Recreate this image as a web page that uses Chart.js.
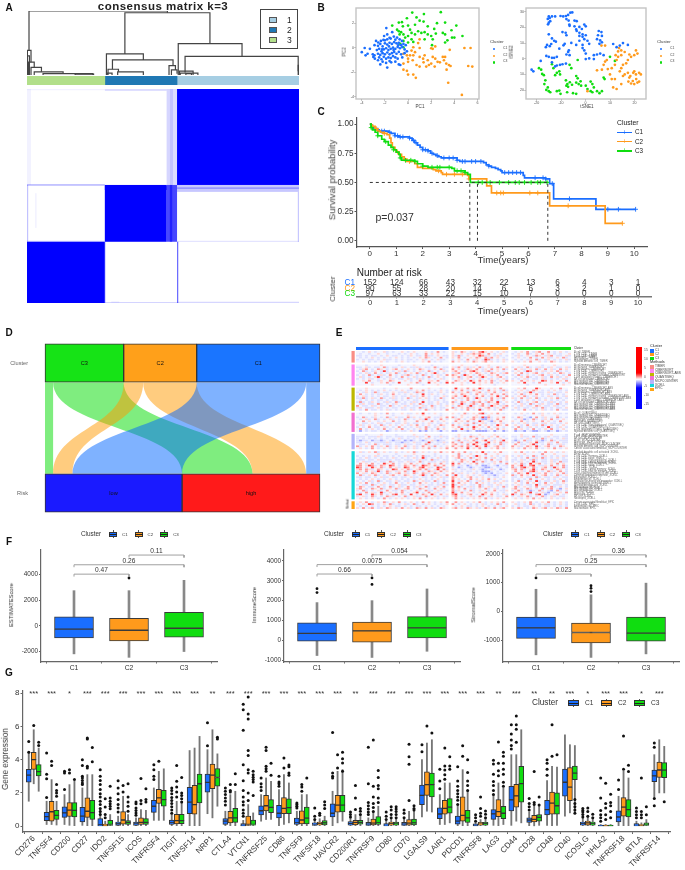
<!DOCTYPE html>
<html lang="en">
<head>
<meta charset="UTF-8">
<title>Consensus clusters</title>
<script src="https://cdn.jsdelivr.net/npm/chart.js"></script>
<style>
    body { margin: 0; width: 685px; height: 870px; background: #fff; position: relative; overflow: hidden;
           font-family: "Liberation Sans", Arial, sans-serif; }
    canvas { position: absolute; filter: blur(.3px); }
    .t { position: absolute; white-space: nowrap; line-height: 1; filter: blur(.25px); }
    .sq { position: absolute; box-sizing: border-box; }
</style>
</head>
<body>
<script>
// ---------- data ----------
const clusterNames = ['C1', 'C2', 'C3'];
const clusterSizes = [152, 90, 97];
const blue = '#1a6eff', orange = '#ff9a1c', green = '#10dd10';
const clusterColors = [blue, orange, green];

// A: dendrogram links [x left, x right, h left, h right, h top], samples on x
const dendroLinks = [
    [2.5,175,.385,.973,1],[122,228,.33,.49,.973],[188.5,268,0,.29,.49],[197,338,.04,.06,.29],[99,145,0,.235,.33],
    [106.5,182,.09,.145,.235],[101,114,0,.05,.09],[177,185,0,.08,.145],[113,145,0,0,.05],[180,187,0,.02,.08],
    [.5,5,0,.2,.385],[2,9,0,.12,.2],[5,18,0,.05,.12],[9,45,0,.02,.05],[20,82,0,0,.02],[60,83,0,0,.015],
    [190,207,0,0,.06],[191,213,0,0,.03],[198,205,0,0,.02],[338,339,0,0,.15],[0,3,0,0,.3],[100,106,0,0,.03]
];
// [x0, x1, y0, y1, consensus]
const consensusBlocks = [
    [187,339,0,152,1],[97,174,152,242,1],[0,97,242,339,1],
    [174,187,152,242,.72],[178,181,152,242,.5],[97,174,153,160,.78],[187,339,152,163,.22],[187,339,156,158,.34],
    [174,178,0,152,.16],[178,182,0,152,.24],[182,187,0,152,.14],[97,174,0,3,.14],[0,97,0,2,.05],[0,5,0,152,.05],
    [0,97,151,153,.35],[0,1.5,152,242,.24],[0,97,240.5,242,.24],[97,98,242,339,.24],[97,187,337.5,339,.18],
    [187,188.5,242,339,.6],[187,339,337,339,.16],[337.5,339,163,242,.22],[187,339,240.5,242,.14],
    [10,12,165,220,.05],[105,115,336,339,.05]
];

// B
const pcaC1 = [[-4,-.37],[-3.75,-.03],[-3.3,-.1],[-3.5,-.5],[-3.67,-.63],[-3.05,-.55],[-3,-.76],[-2.87,-.9],[-2.9,-.63],[-2.6,-1.03],[-2.4,-1.37],[-1.8,-1.63],[-1.46,-1.2],[-.8,-1.37],[-.67,-1.42],[-1.88,1.6],[-1.37,1.26],[-1.8,1.08],[-2.07,.95],[-2.77,.55],[-2.58,.42],[-2.35,.55],[-2.13,.63],[-1.8,.68],[-1.5,.74],[-1.23,.9],[-.95,.82],[-.73,.68],[-.53,.55],[-2.9,.2],[-2.6,.15],[-2.4,.3],[-2.2,.1],[-2,.35],[-1.8,.25],[-1.6,.4],[-1.4,.3],[-1.2,.45],[-1,.35],[-.8,.4],[-.6,.2],[-.4,.3],[-2.7,-.2],[-2.5,-.1],[-2.3,-.3],[-2.1,-.15],[-1.9,-.05],[-1.7,-.2],[-1.5,-.1],[-1.3,0],[-1.1,-.1],[-.9,.05],[-.7,-.05],[-.5,.05],[-2.6,-.5],[-2.4,-.6],[-2.2,-.45],[-2,-.55],[-1.8,-.4],[-1.6,-.55],[-1.4,-.45],[-1.2,-.35],[-1,-.5],[-.8,-.35],[-.6,-.55],[-.3,-.45],[-2.5,-.8],[-2.3,-.95],[-2.1,-.75],[-1.9,-.9],[-1.7,-.8],[-1.5,-.85],[-1.3,-.7],[-1.1,-.8],[-.9,-.9],[-.5,-.8],[-2.2,-1.15],[-1.9,-1.25],[-1.6,-1.1],[-1.1,-1.15],[-.2,.2],[-.3,-.15],[-.1,-.3],[-2,.6],[-1.6,.8],[-1.1,.65],[-.85,.2],[-2.25,-.15],[-1.65,.1],[-1.25,-.2]];
const pcaC2 = [[4.87,-.03],[5.4,-.03],[5.2,-1.5],[5.55,-1.55],[3.47,-2.87],[4.65,-3.87],[3.6,-.18],[2.35,.1],[2.13,-.1],[2,-.05],[1,.68],[.87,.37],[1,-.03],[.45,.03],[.3,-.24],[.6,-.37],[.17,-.63],[.45,-.63],[-.4,-.5],[-.1,-.63],[0,-.9],[.4,-1.03],[1,-.76],[1.3,-.9],[1.43,-.63],[1.7,-1.03],[2.13,-.76],[2.35,-.9],[2,-1.3],[1.8,-1.42],[2.3,-1.55],[2.55,-1.16],[2.75,-1.2],[3,-.76],[3.2,-.76],[3.1,-1.03],[3.3,-1.3],[3.53,-1.42],[3.67,-1.5],[3.33,-1.8],[-.4,-1.3],[0,-1.16],[-.4,-1.8],[-.1,-1.9],[0,-2.2],[.45,-2.2],[.67,-2.47],[.73,-1.42],[1,-1.55],[1.34,-1.2],[1.57,-1.55]];
const pcaC3 = [[.36,2.87],[2.83,2.9],[1.37,2.74],[.73,2.47],[-.1,2.4],[-.53,2.08],[-.8,2.05],[-1.37,1.8],[1,2.2],[1.34,2.13],[2.5,2],[3.2,2.05],[4.17,1.8],[0,1.8],[.6,1.87],[1.7,1.74],[2.26,1.53],[3.75,1.42],[3,1.2],[3.2,1.08],[4.7,.95],[4,.82],[3.8,.82],[3.4,.6],[3.2,.42],[-.8,1.34],[-.6,1.26],[-.4,1.08],[-.25,.82],[0,.95],[.3,1.2],[.6,1.08],[.87,1.34],[1.15,1.2],[1.43,1.26],[1.7,1.08],[2,.95],[2.13,.68],[1.43,.68],[.3,.68],[.45,.47],[0,.42],[-.4,.55],[-.67,.3],[-.4,.03],[2.07,.2],[2.4,1.15],[-.73,1.08],[-.45,1.74],[.17,1.47],[-.95,1.47]];
const tsneC1 = [[-15,27],[-14.6,26],[-15.4,25.4],[-14.4,24],[-15,23],[-15.3,22],[-13.7,27],[-12.4,27],[-10.2,27.3],[-9.1,27],[-8,27.3],[-7.1,28],[-6.2,29.4],[-5.4,29.6],[-7.8,25.3],[-6.9,24.4],[-4.5,24.4],[-3.6,24],[-6.5,21],[-4.5,20.7],[-3.8,18.7],[-2.5,20.3],[-.5,21.8],[.1,20.7],[-3.6,17.7],[-2.5,16.6],[-1.2,15.5],[.1,15],[-2.5,14.6],[-1.2,14],[-9.4,17],[-8.1,16.6],[-7.8,15],[-15,15.6],[-13.7,13],[-12.8,11.5],[-12.1,10.9],[-15.7,8.8],[-16.2,7.4],[-14.6,8],[-10.7,6.4],[-8.5,9.5],[-5.8,10.1],[-3.8,8.8],[-2.5,11.5],[-.5,12.5],[.8,11.5],[1.5,9.5],[-1.2,6.8],[-.5,5.3],[.1,3.3],[-7.1,4.3],[-7.8,2.7],[-6.5,2.3],[5.4,17.7],[6.5,17],[5.1,15],[6.7,14.6],[4.7,12.5],[5.7,9.5],[6.7,10.5],[-16,1.8],[-15,1.2],[-13.7,.6],[-12.8,.6],[-11.7,1.2],[-18.3,-1.4],[-22,-7],[-21.3,-8],[.1,-.2],[1.5,.2],[3.4,-.2],[4.7,2.7],[6,3.3],[7.4,2.3],[3.4,2.3],[-10.4,-3.9],[-9.4,-3.5],[-8,-3.1],[-13.7,-2.3],[-12.4,-4.9],[-11.7,-4.3],[12.7,7.4],[14,8.4],[15.3,10],[17.3,8.8],[11.3,9.4],[-6.6,21.8],[-1.5,19],[-9,8.6],[-14,9.4],[-6.8,5.4],[-1.2,8.8],[6,11.7]];
const tsneC2 = [[6.5,8.4],[8,8.4],[13.3,4.7],[14.6,5.3],[12.3,2.3],[13.3,1.2],[12.7,-.8],[16,4.3],[20.6,5.3],[21.2,3.3],[19.9,2.3],[17.9,2.7],[18.6,1.2],[17.3,-.8],[16.6,-2.9],[15.3,-3.9],[14.6,-6],[8,-1.8],[7.4,-3.9],[6.7,-7],[8.7,-.8],[10.7,-6],[12,-3.9],[14,-8],[16,-10],[17.3,-9],[19.9,-8],[20.6,-10],[21.9,-9],[22.6,-10],[17.9,-12],[19.3,-14.2],[19.9,-16.2],[21.2,-15.2],[21.9,-14.6],[10,-10],[10.7,-13],[12,-13],[11.3,-18.3],[12.7,-19.3],[14.6,-16.2],[15.3,-11],[13.7,6.8],[14.6,2.3],[18.3,-11],[19.5,-9],[17.5,-14.6],[18.6,-15.8],[20.7,-13],[.8,-20.7],[4.7,-7.4],[9.1,-6.6]];
const tsneC3 = [[-19,-6],[-18.1,-7],[-17.7,-9.7],[-17,-10.5],[-16.4,-13.8],[-16.8,-16.2],[-16,-19.9],[-15,-20.7],[-14.4,-21.4],[-15.4,-18.3],[-13.7,-3.5],[-13.1,-6],[-11.7,-9],[-12.4,-10.5],[-10.7,-8],[-10.4,-10],[-6.5,-3.9],[-5.8,-6],[-8,-13.8],[-7.4,-16.2],[-7.8,-17.2],[-7.1,-17.9],[-3.8,-11],[-3.2,-12.5],[-3.8,-15.2],[-2.8,-16.2],[-1.8,-17.2],[.1,-17.2],[2.1,-14.6],[2.8,-16.2],[3.4,-18.3],[2.1,-20.7],[.8,-19.3],[2.8,-21.4],[4.7,-20.7],[6.7,-20.7],[5.7,-22],[-11.7,-20.7],[-10.7,-20.3],[-10.2,-22.4],[-7.5,-21.4],[-5.1,-22],[-3.8,-22.4],[7.4,-12],[7.8,-13],[-3.2,-.8],[10,1.2],[12,-1.4],[-6.4,-15],[-5.5,-16.6],[-2,-14.4]];
const pcaXTicks = [-4,-2,0,2,4,6], pcaYTicks = [-4,-2,0,2];
const tsneXTicks = [-20,-10,0,10,20], tsneYTicks = [-20,-10,0,10,20,30];

// C: survival curves, [time, survival]
const survC1 = [[0,1],[.05,.99],[.1,.975],[.15,.96],[.25,.95],[.35,.94],[.7,.93],[.8,.92],[.95,.9],[1.1,.89],[1.5,.88],[1.6,.86],[1.7,.84],[1.8,.82],[1.9,.8],[2,.78],[2.2,.77],[2.3,.75],[2.4,.74],[2.5,.73],[2.6,.72],[2.7,.71],[3.3,.69],[3.4,.68],[4.3,.67],[4.4,.65],[4.5,.64],[4.6,.63],[4.75,.62],[4.85,.61],[4.95,.6],[5,.585],[5.8,.56],[5.85,.54],[6.65,.53],[6.8,.49],[6.95,.36],[8.55,.27],[10.05,.27]];
const survC2 = [[0,1],[.05,.99],[.1,.98],[.2,.96],[.3,.94],[.4,.93],[.5,.92],[.65,.91],[.75,.88],[.8,.84],[.85,.8],[.95,.78],[1,.76],[1.1,.74],[1.2,.72],[1.3,.7],[1.4,.68],[1.7,.66],[1.8,.63],[2,.62],[2.4,.61],[2.5,.6],[2.7,.585],[2.75,.57],[3.7,.56],[3.75,.53],[4.42,.47],[4.6,.41],[6.8,.3],[8.9,.15],[9.55,.15]];
const survC3 = [[0,1],[.05,.97],[.1,.95],[.2,.93],[.3,.9],[.45,.87],[.55,.85],[.7,.82],[.8,.8],[.9,.78],[1,.76],[1.1,.74],[1.15,.71],[1.2,.69],[1.7,.68],[1.8,.66],[2,.64],[2.2,.63],[3.1,.62],[3.2,.6],[3.6,.585],[3.7,.57],[3.8,.5],[6.75,.5]];
const censorC1 = [.1,.3,.45,.55,.75,.95,1.05,1.15,1.25,1.5,1.65,1.75,2,2.1,2.2,2.35,2.55,2.8,3,3.15,3.3,3.5,3.6,3.85,4,4.2,4.5,5.1,5.25,5.4,5.55,5.7,6.25,6.55,6.65,6.9,7.55,9,9.4,10.05];
const censorC2 = [.1,.25,.55,1.05,1.3,1.5,2.6,2.9,3.2,3.5,3.75,4.8,4.95,5.05,6.05,6.35,7.5,9.55];
const censorC3 = [.05,.3,.6,.9,1.15,1.35,1.55,1.7,2,2.35,2.55,2.65,3,3.3,3.45,3.6,4.1,4.25,4.55,4.9,5.25,5.5,5.65,5.85,6.1,6.35,6.45,6.7];
const medianTimes = [3.78, 4.07, 6.73];
const survTicks = [0,.25,.5,.75,1];
const riskYears = [0,1,2,3,4,5,6,7,8,9,10];
const riskC1 = [152,124,66,43,32,22,13,6,4,3,1];
const riskC2 = [90,55,28,20,14,6,6,3,2,1,0];
const riskC3 = [97,63,33,22,15,10,7,0,0,0,0];

// D: counts going from cluster to risk group
const riskStrata = ['low', 'high'];
const clusterToLow  = {C3: 10, C2: 24, C1: 135};
const clusterToHigh = {C3: 87, C2: 66, C1: 17};

// E: one string per row, one char per patient column, space between clusters
// . near 0, b low, B very low, p raised, r high, R very high
const timerRows = [
 "..b.p.b..pb.b..p.b.p...p.b.r.b. pb.rp.bp.rRp.p.b.pb .b.p.r.bpr..r.b.p.b.",
 ".b..b..p..b...b.b.p.b..r.p.p... p..p.bprprp.r.b.p.. b.p..rb.p.r.p.b.b..p",
 "bb.b.bb.b.p.bb.b.bp.bb.rbb.p.bb pbrb.p.p.Rrbp.bpb.b .bpb.p.brp.bpr.bb.pb",
 ".b.b.p.b.b.b.p.b.b.b.p.rp.b.r.b p.r.b.p.rp.rbr.p.b. b.p.b.r.b.r.pb.p.rb.",
 "b.b.bb.b.pbb.b.b.bb.b.pb.b.pbb. b.pb.r.bp.bRrb.b.pb .b.b.bp.rb.bp.b.b.pb",
 "..p.b.b.p.b..b.p.b.b..p.r.b.b.. r.p.bp.rp.pr.p.b.p. p.b.p.r..p.b.rp.b.b."
];
const cibersortRows = [
 "...b....p.....b....p.....b..... ...p....b...p...... ....p.....b...p.....",
 "bb.pb.bb.rb.bb.pb.bbpb.bb.rb.bb pbr.bpbp.rb.pb.rb.p b.pb.rb.bpb.bp.bb.pb",
 ".bpr.b.rp.b.pr.b.p.b.rp.b.p.rb. r.p.brp.r.bp.r.p.rb .r.pb.p.rb.r.pb.r.p.",
 "b.rb.bp.bRb.b.pbrb.b.pb.rb.b.pb pr.bp.rRp.bprb.p.b. b.p.bRr.b.pb.p.rb.b.",
 ".b.pb.r.b.bp.rb.b.p.rb.b.pRb.b. bpr.b.p.rp.b.rp.bpr .p.r.b.pr.b.p.b.rp.b",
 "b.b.rb.bpb.r.b.bprb.b.rb.b.pb.r rp.bRp.b.rp.bp.r.b. b.rb.p.b.pr.bp.b.b.r",
 ".pb.b.pRb.bp.b.r.b.pb.b.rb.p.b. p.rb.pr.bpRp.b.pr.b .b.p.rb.b.pb.r.pb.p.",
 "b.b.pb.b.b.pb.bb.pb.bpb.b.b.pb. b.pb.p.b.pb.bp.b.pb b.b.pb.bb.pb.b.b.pb.",
 "..p.r..bp..rp...p.b..r..pp.r..p .rp.p.Rp.r.p.rb.p.r p..r.p.p..Rr.p..p.r.",
 "...R.b..p.r.b.R...p.rb..R.p.b.R r..p.b.R.p.p.r.b.p. ..p.R..b.r...p.R.b.p",
 ".....p.....b.....p....b....p... ...p.....p....b.... .....b.....p.....p.."
];
const absRows = [
 "...p.....b...p....r.....p...b.. .R.p.r.p.Rp.b.p.r.. ..p.r...Rp...p..r..",
 ".b.p.b.b.p.b.b.p.bb.p.r.b.b.p.b bp.r.b.rp.b.r.p.brb .b.p.b.rp.b.b.p.b.b",
 "b.bp.brb.bb.p.bbpb.brpb.bb.bp.b r.bp.rb.pr.bp.r.b.p b.p.bpRb.bb.pb.bb.p",
 ".r.b.b.bp.b.r.b.b.p.b.R.bp.b.b. .p.rp.b.r.pb.r.p.rb .b.rb.p.r.b.b.rb.b.",
 "b.pb.b.b.bb.pb.bb.bpb.r.b.bb.pb pr.bRp.bp.r.bp.Rb.r b.p.rb.bp.b.pb.b.bp",
 "bbrb.pb.rb.bpb.b.rb.bp.pb.b.rb. r.bp.r.bRp.b.r.pbr. pb.r.bp.rb.b.p.rb.b",
 ".b.b.b.bb.b.bb.b.b.bb.b.b.bb.b. .p.b.r.b.p.p.r.b.p. .b.b.p.b.b.p.b.b.b.",
 "brb.bp.b.bpb.rb.b.bpb.R.bb.p.bb rb.rp.brpr.brp.Rb.p b.rb.b.pr.b.bpb.b.p",
 ".bp.bb.rb.b.bp.bb.pb.rb.bb.pb.b p.bRb.prb.r.b.pr.b. .b.pb.rb.bp.bb.rb.b",
 "r.bb.pb.bb.rb.b.pb.bb.pb.rb.b.p b.rp.bRb.pr.bRp.bpr b.bp.bb.rp.bb.pb.b.",
 "bp.bbb.pb.b.bb.pb.bb.rbb.pb.bb. rb.p.rbp.b.pr.bp.rb .pb.bb.pb.rb.b.bb.p",
 ".b.r.bb.b.pb.b.bb.pb.b.rb.b.b.r .p.b.r.b.Rb.p.b.rb. b.b.r.b.b.pb.b.r.bb"
];
const quantRows = [
 ".b..b.p.b.r.b..p.bb.p.R.b.p.b.. p.b.rb.p.rRb.p.r.b. .b.p.b.r.bp.b.p.b.b",
 "......p.....b....p....p.....b.. ...p....p...p...... ....b.....p....p...",
 "b.rb.bp.b.rb.pbb.rbp.b.pr.bbp.r rb.p.b.rpbRBrb.p.r. b.rp.bB.r.bp.b.rb.b",
 ".b.pb.rb.b.pb.b.rb.b.pbRb.b.r.b .pr.b.pr.bBBpb.r.p. .b.pBb.rb.bp.r.b.p.",
 "..r.p..b.p..r.b.p...r.p..r.b.p. .r.p.r.b.Rp.bBp.r.. p..r.b.p..r.p.b.r..",
 "b.bb.b.pb.bb.bb.pb.bb.b.pb.bb.b b.p.bb.rb.pb.bb.pb. b.b.pb.bb.bp.bb.b.p",
 ".pb.p.b.rb.p.b.p.bp.r.b.p.b.rp. r.b.pr.b.r.p.b.Rp.r .p.b.r.bp.rb.p.b.p.",
 "b.b.r.bb.pb.b.r.b.b.pb.rb.bp.b. p.rb.b.Rp.b.r.bp.b. b.rb.bp.b.b.Rb.bp.b",
 ".r.b.p.b.r.b.p.r.b.b.p.r.b.r.p. .p.R.p.r.p.b.p.r.p. .r.p.b.r.b.p.r.b.p.",
 ".B.b.bb.b.Bb.b.bb.pb.BbB.b.bB.b BB.bbBb.BBBBb.Bb.Bb .BbbB.bBBb.bBb.Bb.b"
];
const mcpRows = [
 "...b....p....b.....p...p....b.. ..p...b..p....p.... ...p....b....p....b",
 "bbb.bbbpb.bb.bbb.bbbpbb.r.bbpbb .bp.b.rpb.p.bp.r.b. bb.pbb.rbb.bp.bb.bb",
 "b.b.b.b.b.b.b.pb.b.b.b.pb.b.b.b p.b.p.b.r.b.p.b.p.b .b.b.pb.b.rb.b.b.pb",
 "bBbb.BbbBb.bBbb.BbBb.bBb.pbBbb. .br.bp.rb.pR.bp.bR. bBb.rbb.pbBb.rb.bbb",
 "bb.pb.bbbbpb.bbBbb.pbb.bRb.bbpb r.br.bp.Rb.bR.p.rbp b.rb.bp.Rbb.pb.r.bb",
 ".bb.b.rb.bbb.bb.pbb.bb.rb.bb.b. pr.b.r.Rp.bRp.b.rb. .r.bb.pRb.b.rb.bpb.",
 "rb.p.r.bp.rb.pb.rb.pb.r.pbr.b.p r.pr.rb.Rp.Rb.pr.b. r.pb.rp.Rb.pr.b.rp.",
 ".p.b.r.b.p.b.p.r.b.pb.p.r.b.p.r .r.p.R.p.r.b.p.r.p. p.b.r.p.r.b.p.r.b.p"
];
const xcellRows = [
 ".pb.p.rb.p.b.p.b.p.rb.p.b.p.r.p r.p.r.b.p.R.b.p.r.. .p.r.b.p.b.r.p.b.p.",
 ".......p.....b.....p......b.... ..r...p....r...p... ....p.....r...p....",
 "b.b.b.pb.bb.b.b.pbb.b.rbb.b.b.b p.rb.p.bRp.b.p.b.bp b.pb.b.rb.bp.b.b.pb",
 ".b.pb.b.b.b.pb.b.b.pb.Rb.b.pb.b .pr.b.rb.p.r.bp.b.p .b.b.r.bp.rb.b.p.b.",
 "bbb.bb.pbbbb.bb.bbb.bpbb.rbb.bb .b.rp.b.rp.b.r.bb.p bb.pb.brb.bb.pbb.bb",
 "b.pbb.b.bb.rb.bb.pbb.rb.bbb.bpb p.br.p.Rb.rb.bp.r.b b.bp.b.Rb.bb.pb.rbb",
 ".r.p.r.b.Rp.r.b.p.r.p.b.r.p.r.b R.r.b.p.r.b.b.p.b.r .p.rb.R.pr.b.p.r.p.",
 "rr.pRrb.rp.Rr.b.rp.rb.Rrp.rb.r. r.bb.Bb.b.BBb.bB.bb r.pRb.rR.bbp.r.b.rb",
 "Rr.b.Rp.rb.r.pb.Rr.p.rR.pb.Rr.b b.Bb.bBb.bbBBb.bb.b rb.rRp.rb.pr.bRp.rb",
 "pr.rpb.rp.b.Rr.p.rb.pr.rb.pR.rb pb.bb.bp.bBb.pb.Bb. pr.rb.pRb.rp.b.rp.b",
 "bp.r.pbRb.rp.bp.rb.Rp.b.rpb.r.p .b.b.bb.b.BBBb.b.b. .r.pb.rRp.b.rpb.r.b",
 "r.pb.rp.b.rb.pr.pb.rb.rpb.rp.b. r.bp.b.pb.bBbB.bb.p b.rp.Rb.bp.r.b.p.rb",
 ".rb.p.rb.b.pr.b.rp.b.pRb.r.pb.r bR.b.p.b.pb.bbBb.b. rb.r.p.Rb.pr.b.rb.p",
 "bb.bb.b.pbb.bb.bb.pbb.bb.bb.pbb rp.b.pr.b.p.b.bb.p. bb.p.bb.rb.bb.pb.bb",
 ".b.b.p.b.b.p.b.b.b.b.p.b.b.p.b. r.p.b.r.p.p.r.p.b.. b.b.b.r.b.p.b.b.p.b",
 "b.b.pb.rb.bb.pb.bb.rb.pbb.rb.bb R.bp.rb.bpb.p.bb.pb b.rb.pb.Rb.bb.pb.rb",
 ".p.r.b.b.p.b.r.b.p.b.r.p.b.b.r. r.r.p.b.r.p.b.p.p.. .p.b.r.p.b.r.p.b.p.",
 "b.bb.rb.pb.bb.pbb.bb.pb.bb.bpbb Rb.pb.bb.rb.bb.pb.b b.pb.bb.Rb.pb.bbb.b",
 ".rp.bb.r.b.rb.pb.r.bpb.rb.bp.r. R.rb.bpb.rb.pb.b.rb .rb.p.b.r.bb.rb.p.b",
 "pr.b.rp.rb.p.rb.pr.b.rp.b.r.pb. r.p.r.bb.p.rb.pb.b. pr.b.rp.b.r.pr.bB.p",
 "b.rb.b.pb.r.bb.rb.b.pb.rbb.pb.b rbp.b.rb.bp.b.r.bbp b.rb.bBb.rb.bB.rb.b",
 ".b.r.pb.Rb.p.b.r.b.pR.b.r.pb.b. Rb.r.p.b.p.r.p.b.b. .r.b.pR.b.pbB.b.p.r",
 "rR.b.Rp.r.b.rR.pb.R.b.rp.Rb.r.p rR.b.pr.b.Rp.r.b.pb Rb.rp.b.rR.Bb.pr.b.",
 "b.pb.rb.b.rpb.b.rb.pbb.rb.pb.bb pr.bb.pb.rb.bp.bb.r b.bp.rb.b.rb.pb.bb.",
 ".p.b.p.b.r.b.p.p.b.p.r.b.p.b.p. .r.p.b.p.p.r.b.p.p. .p.b.p.r.p.b.p.b.p."
];
const epicRows = [
 ".p.r.b.p.rb.p.r.b.p.b.r.p.b.p.r .r.p.b.p.r.b.p.p.r. p.b.p.r.b.p.r.b.p.b",
 "b.p.Rr.b.p.rb.b.pb.rb.b.p.b.b.p r.b.p.b.b.pb.b.rb.b .pb.b.rb.b.pb.b.p.b",
 ".b.b.b.b.b.p.bb.b.b.bb.b.b.b.b. .b.p.bb.b.p.b.b.b.p b.b.bb.p.b.bb.b.b.b",
 "p.r.pr.bp.rp.p.r.pb.rp.r.pb.rp. pr.p.rp.pb.rp.r.pr. p.rp.b.rp.pr.p.rp.r"
];
const timerLabels = ['B cell_TIMER','T cell CD4+_TIMER','T cell CD8+_TIMER','Neutrophil_TIMER','Macrophage_TIMER','Myeloid dendritic cell_TIMER'];
const cibersortLabels = ['B cell memory_CIBERSORT','B cell naive_CIBERSORT','B cell plasma_CIBERSORT','T cell CD8+_CIBERSORT','T cell CD4+ memory resting_CIBERSORT','T cell CD4+ memory activated_CIBERSORT','T cell regulatory (Tregs)_CIBERSORT','NK cell activated_CIBERSORT','Macrophage M0_CIBERSORT','Macrophage M2_CIBERSORT','Mast cell resting_CIBERSORT'];
const absLabels = ['B cell memory_CIBERSORT-ABS','B cell naive_CIBERSORT-ABS','B cell plasma_CIBERSORT-ABS','T cell CD8+_CIBERSORT-ABS','T cell CD4+ memory resting_CIBERSORT-ABS','T cell CD4+ memory activated_CIBERSORT-ABS','T cell regulatory (Tregs)_CIBERSORT-ABS','NK cell activated_CIBERSORT-ABS','Macrophage M0_CIBERSORT-ABS','Macrophage M1_CIBERSORT-ABS','Macrophage M2_CIBERSORT-ABS','Mast cell resting_CIBERSORT-ABS'];
const quantLabels = ['B cell_QUANTISEQ','Macrophage M1_QUANTISEQ','Macrophage M2_QUANTISEQ','Monocyte_QUANTISEQ','Neutrophil_QUANTISEQ','NK cell_QUANTISEQ','T cell CD4+ (non-regulatory)_QUANTISEQ','T cell CD8+_QUANTISEQ','T cell regulatory (Tregs)_QUANTISEQ','Myeloid dendritic cell_QUANTISEQ'];
const mcpLabels = ['T cell_MCPCOUNTER','T cell CD8+_MCPCOUNTER','NK cell_MCPCOUNTER','B cell_MCPCOUNTER','Monocyte_MCPCOUNTER','Macrophage/Monocyte_MCPCOUNTER','Myeloid dendritic cell_MCPCOUNTER','Cancer associated fibroblast_MCPCOUNTER'];
const xcellLabels = ['Myeloid dendritic cell activated_XCELL','B cell_XCELL','T cell CD4+ memory_XCELL','T cell CD4+ naive_XCELL','T cell CD4+ (non-regulatory)_XCELL','T cell CD4+ central memory_XCELL','T cell CD4+ effector memory_XCELL','T cell CD8+ naive_XCELL','T cell CD8+_XCELL','T cell CD8+ central memory_XCELL','T cell CD8+ effector memory_XCELL','Class-switched memory B cell_XCELL','Common lymphoid progenitor_XCELL','Eosinophil_XCELL','Endothelial cell_XCELL','Granulocyte-monocyte progenitor_XCELL','Hematopoietic stem cell_XCELL','Myeloid dendritic cell_XCELL','Macrophage_XCELL','Macrophage M1_XCELL','Macrophage M2_XCELL','Mast cell_XCELL','Monocyte_XCELL','NK cell_XCELL','Neutrophil_XCELL'];
const epicLabels = ['Cancer associated fibroblast_EPIC','T cell CD8+_EPIC','Endothelial cell_EPIC','Macrophage_EPIC'];
const methodNames = ['TIMER','CIBERSORT','CIBERSORT-ABS','QUANTISEQ','MCPCOUNTER','XCELL','EPIC'];
const methodColors = ['#f98e86','#ff85f0','#bdb800','#f270d0','#b4b4fa','#14d8d8','#ffa514'];
const heatLegendTicks = ['15','10','5','0','-5','-10','-15'];

// F: box stats [low whisker, q1, median, q3, high whisker]
const estimateBox = [[-2170,-930,-250,705,2745],[-2440,-1160,-330,600,2745],[-1990,-880,-175,1060,3550]];
const estimateOut = [[],[3730],[]];
const estimateBrackets = [[1,2,4030,'0.47'],[1,3,4760,'0.26'],[2,3,5516,'0.11']];
const estimateTicks = [-2000,0,2000,4000];
const immuneBox = [[-750,-33,358,896,1905],[-847,-81,489,928,2003],[-537,130,635,1205,2590]];
const immuneOut = [[2606,2410],[3143,2818],[]];
const immuneBrackets = [[1,2,3339,'0.66'],[1,3,3811,'0.0075'],[2,3,4300,'0.054']];
const immuneTicks = [-1000,0,1000,2000,3000,4000];
const stromalBox = [[-1510,-936,-575,-203,767],[-1600,-1094,-733,-406,575],[-1477,-1037,-755,-203,980]];
const stromalOut = [[1161],[890,800,688],[]];
const stromalBrackets = [[1,2,1296,'0.023'],[1,3,1623,'0.25'],[2,3,1962,'0.36']];
const stromalTicks = [-1000,0,1000,2000];

// G
const genes = ['CD276','TNFSF4','CD200','CD27','IDO2','TNFSF15','ICOS','TNFRSF4','TIGIT','TNFSF14','NRP1','CTLA4','VTCN1','TNFRSF25','CD86','TNFSF9','TNFSF18','HAVCR2','CD200R1','TNFRSF9','CD80','CD70','LGALS9','LAIR1','PDCD1','TNFRSF8','LAG3','CD44','CD28','CD48','CD40','ICOSLG','HHLA2','TNFRSF18','BTLA','TNFRSF14'];
const geneStars = ['***','***','*','***','***','***','***','***','***','***','**','***','***','***','***','***','***','***','**','***','***','***','***','***','***','***','**','***','**','**','***','*','***','***','*','***'];
const exprTicks = [0,2,4,6,8];
const geneC1 = [[1.5,2.64,3.07,3.42,4.5],[.1,.33,.57,.84,1.5],[.1,.53,.8,1.17,1.9],[.05,.25,.6,1.13,2.3],[0,.02,.08,.45,1],[0,.05,.15,.25,.6],[0,.05,.13,.25,.5],[.35,.83,1.2,1.55,2.3],[0,.1,.2,.37,.7],[0,.75,1.45,2.33,4.55],[.75,2.05,2.63,3.13,4.6],[0,.1,.3,.45,.9],[0,.02,.05,.15,.35],[.3,.68,.93,1.23,1.9],[0,.5,.78,1.25,2.2],[0,.1,.2,.48,.9],[0,.05,.1,.2,.35],[0,.55,.78,1.35,2.1],[0,.06,.15,.27,.5],[0,.04,.12,.23,.5],[0,.02,.07,.15,.3],[0,.04,.12,.23,.5],[.55,1.3,1.85,2.47,4],[.1,.45,.73,1.1,1.9],[0,.12,.3,.6,1.2],[0,.02,.06,.14,.2],[.05,.41,.74,1,1.9],[.05,.92,1.58,2.39,4.3],[0,.23,.37,.5,.85],[.05,.67,1,1.56,2.75],[.6,1.8,2.64,3.44,5.5],[0,.06,.15,.25,.5],[0,0,.02,.06,.1],[0,.25,.55,.92,1.8],[0,.02,.07,.15,.3],[1.75,2.68,3.03,3.38,4.3]];
const geneC2 = [[2.55,3.42,4,4.44,5.8],[.1,.3,.87,1.5,2.8],[.05,.58,.97,1.42,2.5],[0,.53,.9,1.7,3.1],[0,.02,.05,.12,.3],[0,.12,.37,.88,1.8],[0,.1,.23,.5,1],[.35,1.37,1.7,2.22,3.3],[0,.13,.33,.72,1.5],[0,.72,1.3,2.45,4.7],[.5,2.25,3.07,3.73,5.8],[0,.2,.5,.9,1.9],[0,.04,.1,.6,1.3],[.4,.92,1.23,1.85,2.9],[.1,.75,1.07,1.72,3.1],[0,.13,.37,.92,1.9],[0,.07,.15,.25,.45],[.2,.85,1.27,1.85,3.3],[0,.08,.23,.35,.7],[0,.08,.18,.43,.85],[0,.06,.15,.25,.5],[0,.06,.18,.4,.9],[.9,1.85,2.5,3.27,5],[.1,.72,1.07,1.55,2.6],[0,.3,.65,1.76,3.4],[0,.06,.13,.23,.4],[0,.57,.88,1.6,2.6],[.3,1.15,1.82,2.52,4.3],[.02,.25,.41,.65,1.2],[.03,.72,1.39,2.05,3.6],[.8,1.53,2.35,3.52,4.9],[0,.06,.2,.31,.6],[0,0,.02,.06,.1],[0,.6,1.15,1.72,3.3],[0,.02,.06,.1,.2],[2,2.93,3.38,3.85,5.2]];
const geneC3 = [[2.1,3.03,3.28,3.7,4.7],[.07,.4,.65,.95,1.5],[0,.55,.95,1.42,2.7],[0,.4,.82,1.55,3.1],[0,.04,.1,.35,.7],[0,.1,.23,.33,.7],[0,.1,.23,.45,.95],[.35,1.2,1.6,2.15,3.45],[0,.15,.33,.72,1.5],[0,1.4,2.55,3.13,5.4],[1.2,2.4,2.93,3.47,4.35],[0,.23,.5,1.07,2.1],[0,.06,.1,.37,.8],[.4,.82,1.13,1.6,2.7],[.2,.75,1.12,1.65,2.6],[0,.13,.48,1.15,1.9],[0,.07,.2,.33,.6],[.3,.86,1.27,1.85,3.4],[0,.12,.23,.35,.7],[0,.1,.2,.57,1.2],[0,.06,.13,.25,.5],[0,.08,.2,.43,.9],[.85,1.76,2.5,3.2,5.2],[.2,.78,1.15,1.66,2.6],[0,.22,.5,.96,2.1],[0,.06,.15,.23,.45],[.1,.45,.78,1.2,2.3],[.2,1.45,2.56,3.6,5.8],[.05,.3,.53,.7,1.3],[.05,.72,1.23,2,3.55],[.8,2.8,3.19,3.62,4.85],[0,.06,.15,.25,.5],[0,0,.02,.06,.1],[0,.55,1,1.6,2.9],[0,.04,.12,.2,.4],[2,2.92,3.37,3.82,4.8]];
const outC1 = [[5.1,4.45],[1.72,2.85,3.13,4.4],[2.2,3.3,3.2],[4,3.65,3,2.9,2.75,2.6,2.5],[3.4,3,2.75,2.5,2.2,1.95,1.75,1.5,1.3,1.07,.88,.7],[2.73,2.3,1.95,1.6,1.3,1.1,.85],[1.45,1.35,1.1,.95,.8,.65],[3.7,3.4,3,2.8],[2.3,2.15,1.95,1.72,1.55,1.37,1.17,.98,.78],[],[6.22,4.83],[2.3,2.1,1.9,1.7,1.5,1.27],[7.33,7,5.77,3.7,2.73,2.15,1.75,1.47,1.27,.98,.78,.6],[2.9,2.55,2.35,2.15],[3,2.65,2.55,2.4],[1.4,1.3,1.2,1.1],[1.1,.6,.4],[5.63,3.2,3,2.9],[.85,.7,.55],[4.75,2.55,1.43,1.23,1.03,.85,.7],[.85,.6,.4],[.98,.78,.5],[4.9,4.48],[3.42,2.72,2.25],[3.58,2.72,2.4,2.15,1.95,1.76,1.56,1.3],[.68,.5,.3],[3.97,3.74,3.13,2.68,2.45,2.15,1.9],[6.1,5.54,5.19,4.85,4.64],[1.66,1.37,1.17,.98],[4,3.78,3.42,3.07],[],[1.07,.95,.85,.7,.55],[2.9,1.7,.94,.68,.5,.3],[2.78,2.2],[1.1,.88,.68,.5],[5,4.74,1.66,1.23]];
const outC2 = [[6.05],[3.9,3.65],[3.4,3.2],[5.3,5.25,3.6,3.5],[1.65,1.15,.7,.5],[2.45,2.05],[2.87,1.55,1.35],[3.9],[3.65,2.7,2.35,2.05,1.75],[],[],[2.5,2.15,2.05],[7.77,6.75,6.45,4.55,4.25,3.4,3.2,2,1.55],[4.75,4.55,3.6,3.45,3.3],[4.1,3.5],[2.5,2.35,2.1],[.78,.65],[4.3,3.5],[2.45,1.7,1],[5.18,2.4,1.75,1.37,1.13,.88],[1.17,.98,.7,.5],[4.93,4.17,3.72,1.55],[6.03],[4.7,3.62,3.38,3.1,2.83],[4.83,4.2],[1.76,1.07,.78,.6],[5.07,3.78,3.33,3.03],[6.63,6.1,5.83,5.05],[3.29,1.43,1.3],[6.1,4.2],[],[1.1,.88,.6],[2.58,1.37,1.1,.68,.4],[5.42,3.42],[2.9,.88,.68,.5],[]];
const outC3 = [[5.05,4.85],[2.5,2.15,2,1.8],[2.8],[4.73,3.87],[2.4,1.7,1.5,1.35,1.2,1.05],[2.55,1.75,1.45,1.2,.9],[2.25,1.6,1.45],[],[2.93,2,1.85,1.65,1.45],[],[5.35,5.25],[3.15,2.5],[3.3,3.1,2.95,2.8,2.65,1.85],[3.78,3.07],[3.68,3.58,3.2,3.07],[2.9],[1.47,1.27,1.07],[4.45,4.05,3.8,3.3],[1.07,.9,.7],[3.35,2.93,2.45,2.25,1.7,1.43],[1.17,1.03,.88,.7,.5],[1.23,1.07,.98],[5.6],[4.17,3.62,3.42],[4,3.23,2.72,2.45,2.15],[.92,.72,.5],[4.45,4.2,3.78,3.42,3.13,2.64,2.4],[],[1.76,1.27],[4.3],[1.6,1.37,1.17,.98,.78],[.72,.5],[1.92,1.43,1.23,.88,.5],[3.66,3.29],[1.17,.68],[1.47]];

// ---------- helpers ----------
Chart.defaults.font.family = '"Liberation Sans", Arial, sans-serif';
Chart.defaults.animation = false;

function text(str, x, y, o = {}) {
    const el = document.createElement('div');
    el.className = 't';
    el.textContent = str;
    el.style.left = x + 'px';
    el.style.top = y + 'px';
    el.style.fontSize = (o.size || 8) + 'px';
    el.style.color = o.color || '#333';
    if (o.weight) el.style.fontWeight = o.weight;
    if (o.spacing) el.style.letterSpacing = o.spacing + 'px';
    const ax = o.anchor === 'middle' ? '-50%' : (o.anchor === 'end' ? '-100%' : '0');
    el.style.transform = `translate(${ax},-50%)` + (o.rot ? ` rotate(${o.rot}deg)` : '');
    document.body.appendChild(el);
}
function box(x, y, w, h, css) {
    const el = document.createElement('div');
    el.className = 'sq';
    el.style.cssText = `left:${x}px;top:${y}px;width:${w}px;height:${h}px;${css}`;
    document.body.appendChild(el);
}
function boxKey(x, y, w, h, color) {
    box(x + w / 2 - .4, y - h / 2 - 1.5, .8, h + 3, 'background:#555');
    box(x, y - h / 2, w, h, `background:${color};border:.7px solid #333`);
    box(x, y - .45, w, .9, 'background:#222');
}
// plot = page coordinates of the plotting area, m = room around it
function addChart(plot, m, type, data, scales, plugins = []) {
    const cv = document.createElement('canvas');
    cv.width = plot.r - plot.l + m.l + m.r;
    cv.height = plot.b - plot.t + m.t + m.b;
    cv.style.left = (plot.l - m.l) + 'px';
    cv.style.top = (plot.t - m.t) + 'px';
    document.body.appendChild(cv);
    const shownLeft = scales.y.display !== false && scales.y.position !== 'right';
    const shownRight = scales.y.display !== false && scales.y.position === 'right';
    const shownBottom = scales.x.display !== false;
    return new Chart(cv, {
        type, data, plugins,
        options: {
            indexAxis: (scales.y.indexY ? 'y' : 'x'),
            responsive: false,
            layout: { padding: { left: shownLeft ? 0 : m.l, right: shownRight ? 0 : m.r, top: m.t, bottom: shownBottom ? 0 : m.b } },
            plugins: { legend: { display: false }, tooltip: { enabled: false } },
            scales
        }
    });
}
const axisColor = '#555';
const setTicks = values => s => { s.ticks = values.map(v => ({ value: v })); };
function xAxis(min, max, h, values, o = {}) {
    return {
        type: 'linear', min, max, offset: false,
        afterBuildTicks: setTicks(values),
        afterFit(s) { s.height = h; s.paddingLeft = 0; s.paddingRight = 0; },
        grid: { drawOnChartArea: false, tickLength: o.tick ?? 3, tickColor: o.color || axisColor, tickWidth: 1 },
        border: { color: o.color || axisColor, width: o.bw ?? 1.2 },
        ticks: { autoSkip: false, maxRotation: o.rotate || 0, minRotation: o.rotate || 0,
                 padding: o.pad ?? 1, color: o.textColor || '#333', font: { size: o.size || 7 }, callback: o.cb || (v => String(v)) }
    };
}
function yAxis(min, max, w, values, o = {}) {
    return {
        type: 'linear', min, max,
        afterBuildTicks: setTicks(values),
        afterFit(s) { s.width = w; s.paddingTop = 0; s.paddingBottom = 0; },
        grid: { drawOnChartArea: false, tickLength: o.tick ?? 3, tickColor: o.color || axisColor, tickWidth: 1 },
        border: { color: o.color || axisColor, width: o.bw ?? 1.2 },
        ticks: { autoSkip: false, padding: o.pad ?? 1, color: o.textColor || '#333', font: { size: o.size || 7 }, callback: o.cb || (v => String(v)) }
    };
}
const hidden = (min, max, extra = {}) => Object.assign({ type: 'linear', display: false, min, max, offset: false }, extra);

// box plot built from floating bars + scatter outliers
function boxSets(xs, stats, outs, color, o) {
    const whisker = stats.map((s, i) => ({ x: xs[i], y: [s[0], s[4]] }));
    const lower = stats.map((s, i) => ({ x: xs[i], y: [s[1], s[2]] }));
    const upper = stats.map((s, i) => ({ x: xs[i], y: [s[2], s[3]] }));
    const dots = [];
    outs.forEach((list, i) => list.forEach(v => dots.push({ x: xs[i], y: v })));
    const bar = (d, th, bg, bw, ord) => ({ type: 'bar', data: d, grouped: false, barThickness: th, backgroundColor: bg,
        borderColor: o.edge, borderWidth: bw, borderSkipped: false, order: ord });
    return [
        bar(lower, o.width, color, o.edgeWidth, 2), bar(upper, o.width, color, o.edgeWidth, 2),
        bar(whisker, o.whisker, o.whiskerColor, 0, 3),
        { type: 'scatter', data: dots, pointRadius: o.dot, backgroundColor: '#111', borderWidth: 0, order: 1 }
    ];
}

// ---------- panel letters ----------
[['A',9,8],['B',321,8],['C',321,112],['D',9,333],['E',339,333],['F',9,542],['G',9,673]].forEach(p =>
    text(p[0], p[1], p[2], { size: 10, weight: 'bold', color: '#111', anchor: 'middle' }));

// ---------- A ----------
text('consensus matrix k=3', 163, 7, { size: 11.5, weight: 'bold', anchor: 'middle', spacing: .5, color: '#222' });
addChart({ l: 27, r: 299, t: 11, b: 75 }, { l: 2, r: 2, t: 1, b: 1 }, 'scatter', {
    datasets: dendroLinks.map(k => ({
        showLine: true, pointRadius: 0, borderColor: '#444', borderWidth: 1.2,
        data: [{ x: k[0], y: k[2] }, { x: k[0], y: k[4] }, { x: k[1], y: k[4] }, { x: k[1], y: k[3] }]
    }))
}, { x: hidden(0, 339), y: hidden(0, 1) });
addChart({ l: 27, r: 299, t: 76, b: 85 }, { l: 0, r: 0, t: 0, b: 0 }, 'bar', {
    labels: ['consensus class'],
    datasets: [['#b2df8a', clusterSizes[2]], ['#1f78b4', clusterSizes[1]], ['#a6cee3', clusterSizes[0]]].map(c => (
        { data: [c[1]], backgroundColor: c[0], barPercentage: 1, categoryPercentage: 1 }))
}, { x: hidden(0, 339, { stacked: true }), y: { display: false, type: 'category', stacked: true, indexY: true } });
addChart({ l: 27, r: 299, t: 89, b: 303 }, { l: 0, r: 0, t: 0, b: 0 }, 'scatter', { datasets: [{ data: [] }] },
    { x: hidden(0, 339), y: hidden(0, 339, { reverse: true }) }, [{
    id: 'consensusCells',
    beforeDraw(chart) {
        const { ctx, scales: { x, y } } = chart;
        consensusBlocks.forEach(b => {
            ctx.fillStyle = `rgba(0,0,255,${b[4]})`;
            ctx.fillRect(x.getPixelForValue(b[0]), y.getPixelForValue(b[2]), x.getPixelForValue(b[1]) - x.getPixelForValue(b[0]), y.getPixelForValue(b[3]) - y.getPixelForValue(b[2]));
        });
    }
}]);
box(260, 9, 37.5, 40, 'border:1px solid #444;background:#fff');
['#a6cee3', '#1f78b4', '#b2df8a'].forEach((c, i) => {
    box(269, 17 + i * 10, 8, 6, `background:${c};border:1px solid #555`);
    text(String(i + 1), 287, 20 + i * 10, { size: 8.5, color: '#222' });
});

// ---------- B ----------
const framePlugin = { id: 'frame', afterDraw(chart) {
    const a = chart.chartArea, c = chart.ctx;
    c.strokeStyle = '#c4c4c4'; c.lineWidth = 1.4; c.strokeRect(a.left, a.top, a.width, a.height);
} };
function scatterPanel(plot, sets, xr, yr, xTicks, yTicks, xName, yName, xTitleX, yTitleX, legX) {
    addChart(plot, { l: 6, r: 1, t: 1, b: 7 }, 'scatter', {
        datasets: sets.map((s, i) => ({ data: s.map(p => ({ x: p[0], y: p[1] })), pointRadius: 1.35, borderWidth: 0, backgroundColor: clusterColors[i] }))
    }, {
        x: xAxis(xr[0], xr[1], 7, xTicks, { size: 3.6, tick: 1.5, color: '#999', bw: 0, textColor: '#555', pad: .5 }),
        y: yAxis(yr[0], yr[1], 6, yTicks, { size: 3.6, tick: 1.5, color: '#999', bw: 0, textColor: '#555', pad: .5 })
    }, [framePlugin]);
    text(xName, xTitleX, 107, { size: 4.6, anchor: 'middle', color: '#444' });
    text(yName, yTitleX, 52, { size: 4.6, anchor: 'middle', rot: -90, color: '#444' });
    text('Cluster', legX, 42, { size: 4.3, color: '#333' });
    clusterNames.forEach((n, i) => {
        box(legX + 3, 48 + i * 6.7, 2.2, 2.2, `background:${clusterColors[i]};border-radius:50%`);
        text(n, legX + 13, 49 + i * 6.7, { size: 3.4, color: '#444' });
    });
}
scatterPanel({ l: 356, r: 482.7, t: 5, b: 99.3 }, [pcaC1, pcaC2, pcaC3], [-4.5, 6.13], [-4.2, 3.24], pcaXTicks, pcaYTicks, 'PC1', 'PC2', 420, 345, 490);
scatterPanel({ l: 525.7, r: 649.3, t: 5, b: 99.3 }, [tsneC1, tsneC2, tsneC3], [-24.3, 24.7], [-25.7, 32.4], tsneXTicks, tsneYTicks, 'tSNE1', 'tSNE2', 587, 512, 657);

// ---------- C ----------
const atTime = (curve, t) => { let s = 1; curve.forEach(p => { if (p[0] <= t) s = p[1]; }); return s; };
const survivalSets = [];
[[survC1, censorC1], [survC2, censorC2], [survC3, censorC3]].forEach((c, i) => {
    survivalSets.push({ type: 'line', stepped: true, pointRadius: 0, borderWidth: 1.7, borderColor: clusterColors[i], order: 3 - i + 2,
        data: c[0].map(p => ({ x: p[0], y: p[1] })) });
    survivalSets.push({ type: 'scatter', pointStyle: 'cross', pointRadius: 2.4, borderWidth: .9, borderColor: clusterColors[i], order: 3 - i + 2,
        data: c[1].map(t => ({ x: t, y: atTime(c[0], t) })) });
});
const dashed = d => ({ type: 'line', pointRadius: 0, borderWidth: 1, borderColor: '#333', borderDash: [3, 3], order: 1, data: d });
survivalSets.push(dashed([{ x: 0, y: .5 }, { x: medianTimes[2], y: .5 }]));
medianTimes.forEach(t => survivalSets.push(dashed([{ x: t, y: 0 }, { x: t, y: .5 }])));
addChart({ l: 356.7, r: 650.7, t: 113.6, b: 246.7 }, { l: 23, r: 1, t: 1, b: 12 }, 'scatter', { datasets: survivalSets }, {
    x: xAxis(-.485, 10.485, 12, riskYears, { size: 8, tick: 2, pad: 0 }),
    y: yAxis(-.053, 1.053, 23, survTicks, { size: 8.2, tick: 2.5, pad: 1, cb: v => v.toFixed(2) })
});
text('Survival probability', 332, 180, { size: 9.6, anchor: 'middle', rot: -90, color: '#444' });
text('Time(years)', 503, 259.5, { size: 9.6, anchor: 'middle' });
text('p=0.037', 375.5, 216.7, { size: 10.5 });
text('Cluster', 617, 123, { size: 6.8, color: '#222' });
clusterNames.forEach((n, i) => {
    box(617, 131.7 + i * 9.2, 15, 1.6, `background:${clusterColors[i]}`);
    text('+', 624.5, 132 + i * 9.2, { size: 7, color: clusterColors[i], anchor: 'middle' });
    text(n, 635, 132.3 + i * 9.2, { size: 6.3, color: '#222' });
});
text('Number at risk', 356.7, 272.7, { size: 10, color: '#222' });
const riskRows = [riskC1, riskC2, riskC3];
addChart({ l: 356.7, r: 650.7, t: 280.2, b: 297.7 }, { l: 15, r: 1, t: 1, b: 10 }, 'scatter', {
    labels: clusterNames, datasets: [{ data: [] }]
}, {
    x: xAxis(-.485, 10.485, 10, riskYears, { size: 7.6, tick: 1.5, pad: 0, color: '#777', bw: 1.6 }),
    y: { type: 'category', labels: clusterNames, offset: true, afterFit(s) { s.width = 15; s.paddingTop = 0; s.paddingBottom = 0; },
         grid: { display: false }, border: { display: false }, ticks: { display: false } }
}, [{
    id: 'riskNumbers',
    afterDraw(chart) {
        const { ctx, scales: { x, y }, chartArea: a } = chart;
        ctx.font = '8.2px "Liberation Sans"'; ctx.textBaseline = 'middle';
        riskRows.forEach((row, r) => {
            ctx.textAlign = 'right'; ctx.fillStyle = clusterColors[r];
            ctx.fillText(clusterNames[r], a.left - 2, y.getPixelForValue(r));
            ctx.textAlign = 'center'; ctx.fillStyle = '#333';
            row.forEach((v, i) => ctx.fillText(v, x.getPixelForValue(riskYears[i]), y.getPixelForValue(r)));
        });
    }
}]);
text('Cluster', 333, 289, { size: 8, anchor: 'middle', rot: -90, color: '#444' });
text('Time(years)', 503, 310.7, { size: 9.6, anchor: 'middle' });

// ---------- D ----------
const stratumOrder = ['C3', 'C2', 'C1'];
const stratumColor = { C3: '#16e316', C2: '#ffa01a', C1: '#1a75ff', low: '#1a1aff', high: '#ff1a1a' };
const flowColor = { C3: 'rgba(0,220,0,.5)', C2: 'rgba(255,153,0,.5)', C1: 'rgba(0,102,255,.5)' };
const stratumH = 38.5;
const sizeOf = { C1: clusterSizes[0], C2: clusterSizes[1], C3: clusterSizes[2] };
addChart({ l: 45, r: 320, t: 363.3, b: 493.7 }, { l: 45, r: 1, t: 20, b: 20 }, 'bar', {
    labels: ['Cluster', 'Risk'],
    datasets: stratumOrder.map(n => ({ label: n, data: [sizeOf[n], null] })).concat(
        riskStrata.map((n, i) => ({ label: n, data: [null, (i ? Object.values(clusterToHigh) : Object.values(clusterToLow)).reduce((a, b) => a + b)] })))
        .map(d => Object.assign(d, { backgroundColor: stratumColor[d.label], borderColor: '#333', borderWidth: 1, borderSkipped: false, barThickness: stratumH, clip: false }))
}, {
    x: hidden(0, 339, { stacked: true }),
    y: { type: 'category', offset: false, stacked: true, indexY: true, labels: ['Cluster', 'Risk'],
         afterFit(s) { s.width = 45; s.paddingTop = 0; s.paddingBottom = 0; },
         grid: { display: false, drawTicks: false }, border: { display: false }, ticks: { padding: 17, color: '#666', font: { size: 5.6 } } }
}, [{
    id: 'alluvium',
    beforeDatasetsDraw(chart) {
        const { ctx, scales: { x, y } } = chart;
        const y0 = y.getPixelForValue(0) + stratumH / 2, y1 = y.getPixelForValue(1) - stratumH / 2, ym = (y0 + y1) / 2;
        let top = 0, lowAt = 0, highAt = clusterToLow.C3 + clusterToLow.C2 + clusterToLow.C1;
        const band = (a, b, c, d, col) => {
            ctx.fillStyle = col; ctx.beginPath();
            ctx.moveTo(x.getPixelForValue(a), y0);
            ctx.bezierCurveTo(x.getPixelForValue(a), ym, x.getPixelForValue(c), ym, x.getPixelForValue(c), y1);
            ctx.lineTo(x.getPixelForValue(d), y1);
            ctx.bezierCurveTo(x.getPixelForValue(d), ym, x.getPixelForValue(b), ym, x.getPixelForValue(b), y0);
            ctx.closePath(); ctx.fill();
        };
        stratumOrder.forEach(n => {
            const l = clusterToLow[n], h = clusterToHigh[n];
            band(top, top + l, lowAt, lowAt + l, flowColor[n]);
            band(top + l, top + l + h, highAt, highAt + h, flowColor[n]);
            top += l + h; lowAt += l; highAt += h;
        });
    },
    afterDatasetsDraw(chart) {
        const { ctx } = chart;
        ctx.font = '5.6px "Liberation Sans"'; ctx.textAlign = 'center'; ctx.textBaseline = 'middle'; ctx.fillStyle = '#111';
        chart.data.datasets.forEach((d, i) => chart.getDatasetMeta(i).data.forEach(b => {
            if (Math.abs(b.x - b.base) > 1) ctx.fillText(d.label, (b.x + b.base) / 2, b.y);
        }));
    }
}]);

// ---------- E ----------
const methodRows = [timerRows, cibersortRows, absRows, quantRows, mcpRows, xcellRows, epicRows];
const methodLabels = [timerLabels, cibersortLabels, absLabels, quantLabels, mcpLabels, xcellLabels, epicLabels];
const heatColor = { '.': '#f3f4ff', b: '#dfe1ff', B: '#a4a9ff', p: '#ffd9d9', r: '#ff9a9a', R: '#ff3a3a' };
const heatLabels = [], heatCells = [], methodSpans = [];
methodRows.forEach((rows, m) => {
    if (m) { heatLabels.push(''); heatCells.push(null); }
    methodSpans.push([heatLabels.length, heatLabels.length + rows.length - 1, methodColors[m]]);
    rows.forEach((r, i) => { heatLabels.push(methodLabels[m][i]); heatCells.push(r.split(' ')); });
});
const clusterStart = [0, 32, 52], clusterEnd = [31, 51, 72];
const heatChart = addChart({ l: 355.7, r: 571, t: 351, b: 509 }, { l: 6, r: 65, t: 6, b: 0 }, 'scatter', { labels: heatLabels, datasets: [{ data: [] }] }, {
    x: hidden(0, 72),
    y: { type: 'category', labels: heatLabels, position: 'right', offset: true, afterFit(s) { s.width = 65; s.paddingTop = 0; s.paddingBottom = 0; },
         grid: { display: false, drawTicks: false }, border: { display: false },
         ticks: { autoSkip: false, padding: 3, color: '#666', font: { size: 2.6 } } }
}, [{
    id: 'heatCells',
    beforeDraw(chart) {
        const { ctx, scales: { x, y }, chartArea: a } = chart;
        const rh = y.getPixelForValue(1) - y.getPixelForValue(0), cw = x.getPixelForValue(1) - x.getPixelForValue(0);
        heatCells.forEach((segs, r) => {
            if (!segs) return;
            segs.forEach((s, k) => {
                for (let i = 0; i < s.length && clusterStart[k] + i < clusterEnd[k]; i++) {
                    ctx.fillStyle = heatColor[s[i]];
                    ctx.fillRect(x.getPixelForValue(clusterStart[k] + i), y.getPixelForValue(r) - rh / 2, cw, rh);
                }
            });
        });
        clusterStart.forEach((c, k) => {
            ctx.fillStyle = clusterColors[k];
            ctx.fillRect(x.getPixelForValue(c), a.top - 4, x.getPixelForValue(clusterEnd[k]) - x.getPixelForValue(c), 3);
        });
        methodSpans.forEach(s => {
            ctx.fillStyle = s[2];
            ctx.fillRect(a.left - 4.5, y.getPixelForValue(s[0]) - rh / 2, 3.2, y.getPixelForValue(s[1]) - y.getPixelForValue(s[0]) + rh);
        });
    }
}]);
heatChart.canvas.style.filter = 'blur(.55px)';
text('Method', 348, 504, { size: 2.8, anchor: 'middle', rot: -90, color: '#222' });
text('Cluster', 574, 348, { size: 2.8, color: '#222' });
box(636, 347, 6, 62, 'background:linear-gradient(#ff0000 0%,#ff0000 42%,#fff 52%,#0000ff 66%,#0000ff 100%)');
heatLegendTicks.forEach((t, i) => text(t, 644, 350.7 + i * 9.05, { size: 3.4, color: '#555' }));
text('Cluster', 650, 347, { size: 3.8, color: '#222' });
clusterNames.forEach((n, i) => {
    box(650, 349 + i * 3.8, 4, 3.6, `background:${clusterColors[i]}`);
    text(n, 655, 351 + i * 3.8, { size: 3.2, color: '#444' });
});
text('Methods', 650, 363.3, { size: 3.8, color: '#222' });
methodNames.forEach((n, i) => {
    box(650, 365.3 + i * 3.7, 4, 3.5, `background:${methodColors[i]}`);
    text(n, 655, 367 + i * 3.7, { size: 3.2, color: '#444' });
});

// ---------- F ----------
const fBoxOpts = { width: 39, edge: '#3a3a3a', edgeWidth: 1, whisker: 2, whiskerColor: '#888', dot: 1.4 };
const clusterPositions = [1, 2, 3];
const cNames = v => clusterNames[v - 1];
function bracketPlugin() {
    return { id: 'brackets', afterDatasetsDraw(chart) {
        const { ctx, scales: { x, y } } = chart;
        ctx.font = '6.6px "Liberation Sans"'; ctx.textAlign = 'center'; ctx.textBaseline = 'bottom'; ctx.fillStyle = '#333';
        chart.data.datasets.forEach(d => { if (d.pText) ctx.fillText(d.pText, x.getPixelForValue(d.pAt[0]), y.getPixelForValue(d.pAt[1]) - .5); });
    } };
}
function boxPanel(plot, stats, outs, brackets, yr, yTicks, title, titleX, legendX) {
    const sets = [];
    stats.forEach((s, i) => sets.push(...boxSets([i + 1], [s], [outs[i]], clusterColors[i], fBoxOpts)));
    const span = yr[1] - yr[0], tip = span * 2.5 / (plot.b - plot.t);
    brackets.forEach(b => sets.push({ type: 'line', pointRadius: 0, borderWidth: 1, borderColor: '#a0a0a0', order: 0,
        pText: b[3], pAt: [(b[0] + b[1]) / 2, b[2]],
        data: [{ x: b[0], y: b[2] - tip }, { x: b[0], y: b[2] }, { x: b[1], y: b[2] }, { x: b[1], y: b[2] - tip }] }));
    addChart(plot, { l: 23, r: 1, t: 1, b: 10 }, 'bar', { datasets: sets }, {
        x: xAxis(.4, 3.6, 10, clusterPositions, { size: 6.8, tick: 1.5, cb: cNames, pad: .5, color: '#666' }),
        y: yAxis(yr[0], yr[1], 23, yTicks, { size: 6.4, tick: 2, pad: 1, color: '#666' })
    }, [bracketPlugin()]);
    text(title, titleX, 605, { size: 5.8, anchor: 'middle', rot: -90, color: '#333' });
    text('Cluster', legendX[0], 534.3, { size: 6.4, color: '#333' });
    clusterNames.forEach((n, i) => {
        boxKey(legendX[1] + i * 25.6, 534.3, 8, 5, clusterColors[i]);
        text(n, legendX[1] + 13 + i * 25.6, 534.5, { size: 4.4, color: '#333' });
    });
}
boxPanel({ l: 41.2, r: 220.6, t: 547.3, b: 662.3 }, estimateBox, estimateOut, estimateBrackets, [-2803, 5909], estimateTicks, 'ESTIMATEScore', 12, [81, 109]);
boxPanel({ l: 284, r: 463.7, t: 547.3, b: 662.3 }, immuneBox, immuneOut, immuneBrackets, [-1075, 4544], immuneTicks, 'ImmuneScore', 255, [324, 351.7]);
boxPanel({ l: 503.3, r: 683, t: 547.3, b: 662.3 }, stromalBox, stromalOut, stromalBrackets, [-1759, 2131], stromalTicks, 'StromalScore', 474, [543, 571]);

// ---------- G ----------
const gBoxOpts = { width: 5, edge: '#333', edgeWidth: 1, whisker: 1.2, whiskerColor: '#777', dot: 1.5 };
const gSets = [];
const genePositions = genes.map((n, k) => k + 1);
[[geneC1, outC1, -.278], [geneC2, outC2, 0], [geneC3, outC3, .278]].forEach((g, i) => {
    gSets.push(...boxSets(genePositions.map(p => p + g[2]), g[0], g[1], clusterColors[i], gBoxOpts));
});
addChart({ l: 22.5, r: 672.5, t: 688, b: 832.7 }, { l: 23, r: 1, t: 1, b: 37 }, 'bar', { datasets: gSets }, {
    x: xAxis(.4, 36.6, 37, genePositions, { size: 8, tick: 2, rotate: 45, pad: 0, cb: v => genes[v - 1], color: '#666' }),
    y: yAxis(-.35, 8.13, 23, exprTicks, { size: 8, tick: 2.5, pad: 1, color: '#666' })
}, [{
    id: 'geneStars',
    afterDatasetsDraw(chart) {
        const { ctx, scales: { x, y } } = chart;
        ctx.font = '7.5px "Liberation Sans"'; ctx.textAlign = 'center'; ctx.textBaseline = 'middle'; ctx.fillStyle = '#333';
        geneStars.forEach((s, i) => ctx.fillText(s, x.getPixelForValue(i + 1), y.getPixelForValue(8) + 1));
    }
}]);
text('Gene expression', 6, 759, { size: 8.2, anchor: 'middle', rot: -90 });
text('Cluster', 532, 703, { size: 8.2, color: '#333' });
clusterNames.forEach((n, i) => {
    boxKey(567.7 + i * 33.2, 703, 11, 5.6, clusterColors[i]);
    text(n, 585 + i * 33, 703, { size: 6.6, color: '#333' });
});
</script>
</body>
</html>
